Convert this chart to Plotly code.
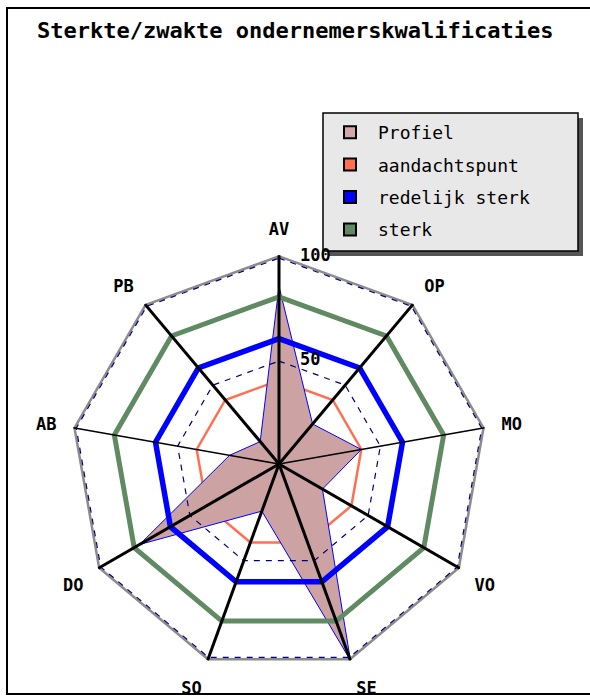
"""
Radar chart: Sterkte/zwakte ondernemerskwalificaties
"""

import plotly.graph_objects as go

# data
categories = ["AV", "OP", "MO", "VO", "SE", "SO", "DO", "AB", "PB"]
profiel = [85, 25, 40, 24, 100, 24, 77, 24, 14]
aandachtspunt = 40
redelijk_sterk = 60
sterk = 80
maximum = 100
radial_ticks = [50, 100]
legend_names = ["Profiel", "aandachtspunt", "redelijk sterk", "sterk"]

MONO = "DejaVu Sans Mono"
thin_spokes = {"MO", "AB"}

theta_closed = categories + [categories[0]]


def ring(value):
    return [value] * len(theta_closed)


fig = go.Figure()

# aandachtspunt lies beneath the profile fill
fig.add_trace(go.Scatterpolar(
    r=ring(aandachtspunt), theta=theta_closed, mode="lines",
    line=dict(color="#ff7052", width=2.5), showlegend=False, hoverinfo="skip"))

fig.add_trace(go.Scatterpolar(
    r=profiel + [profiel[0]], theta=theta_closed, mode="lines", fill="toself",
    fillcolor="#cda2a2", line=dict(color="#0000ff", width=1),
    showlegend=False))

fig.add_trace(go.Scatterpolar(
    r=ring(maximum), theta=theta_closed, mode="lines",
    line=dict(color="#8c8c8c", width=5), showlegend=False, hoverinfo="skip"))
fig.add_trace(go.Scatterpolar(
    r=ring(sterk), theta=theta_closed, mode="lines",
    line=dict(color="#5f8a62", width=5), showlegend=False, hoverinfo="skip"))
fig.add_trace(go.Scatterpolar(
    r=ring(redelijk_sterk), theta=theta_closed, mode="lines",
    line=dict(color="#0000ff", width=5.5), showlegend=False, hoverinfo="skip"))

# dashed grid rings
for v in radial_ticks:
    fig.add_trace(go.Scatterpolar(
        r=ring(v * 0.985), theta=theta_closed, mode="lines",
        line=dict(color="#000080", width=1.2, dash="6px,6px"),
        showlegend=False, hoverinfo="skip"))

# spokes
for c in categories:
    fig.add_trace(go.Scatterpolar(
        r=[0, maximum], theta=[c, c], mode="lines",
        line=dict(color="black", width=1.6 if c in thin_spokes else 3),
        showlegend=False, hoverinfo="skip"))

# legend entries as squares
legend_colors = ["#d4a8a8", "#ff7052", "#0000ff", "#5f8a62"]
for i, (name, col) in enumerate(zip(legend_names, legend_colors)):
    fig.add_trace(go.Scatterpolar(
        r=[None], theta=[None], mode="markers", name=name,
        legendgroup=f"g{i}",
        marker=dict(symbol="square", size=16, color=col,
                    line=dict(color="black", width=1.2))))

W, H = 590, 699
cx, cy, R = 279, 464, 209

fig.update_layout(
    width=W, height=H,
    margin=dict(l=0, r=0, t=0, b=0),
    paper_bgcolor="white",
    plot_bgcolor="white",
    font=dict(family=MONO, color="black"),
    title=dict(text="<b>Sterkte/zwakte ondernemerskwalificaties</b>",
               x=37 / W, xanchor="left", y=1 - 30 / H, yanchor="middle",
               font=dict(family=MONO, size=22, color="black")),
    polar=dict(
        domain=dict(x=[(cx - R) / W, (cx + R) / W],
                    y=[1 - (cy + R) / H, 1 - (cy - R) / H]),
        bgcolor="rgba(0,0,0,0)",
        gridshape="linear",
        angularaxis=dict(
            categoryorder="array", categoryarray=categories,
            rotation=90, direction="clockwise",
            showgrid=False, showline=False,
            ticks="outside", ticklen=13, tickcolor="rgba(0,0,0,0)",
            tickfont=dict(family=MONO, size=17, color="black", weight="bold"),
        ),
        radialaxis=dict(
            range=[0, maximum], angle=90, tickangle=90,
            tickvals=radial_ticks,
            ticktext=["\u00a0\u00a0" + str(v) for v in radial_ticks],
            showgrid=False, showline=False, ticks="",
            tickfont=dict(family=MONO, size=17, color="black", weight="bold"),
        ),
    ),
    legend=dict(
        x=322 / W, xanchor="left", y=1 - 114 / H, yanchor="top",
        bgcolor="rgba(0,0,0,0)", borderwidth=0,
        font=dict(family=MONO, size=18, color="black"),
        tracegroupgap=6, itemwidth=46, itemsizing="constant",
    ),
    shapes=[
        dict(type="rect", xref="paper", yref="paper",
             x0=7 / W, x1=1.1, y0=1 - 694 / H, y1=1 - 8 / H,
             line=dict(color="black", width=2), layer="below"),
        # legend box with shadow
        dict(type="rect", xref="paper", yref="paper",
             x0=328 / W, x1=583 / W, y0=1 - 256 / H, y1=1 - 118 / H,
             fillcolor="#555555", line=dict(width=0), layer="below"),
        dict(type="rect", xref="paper", yref="paper",
             x0=323 / W, x1=578 / W, y0=1 - 251 / H, y1=1 - 113 / H,
             fillcolor="#e8e8e8", line=dict(color="black", width=1.5),
             layer="below"),
    ],
)

fig.write_html("out.html", config={"displayModeBar": False},
               post_script="document.body.style.margin='0';")
